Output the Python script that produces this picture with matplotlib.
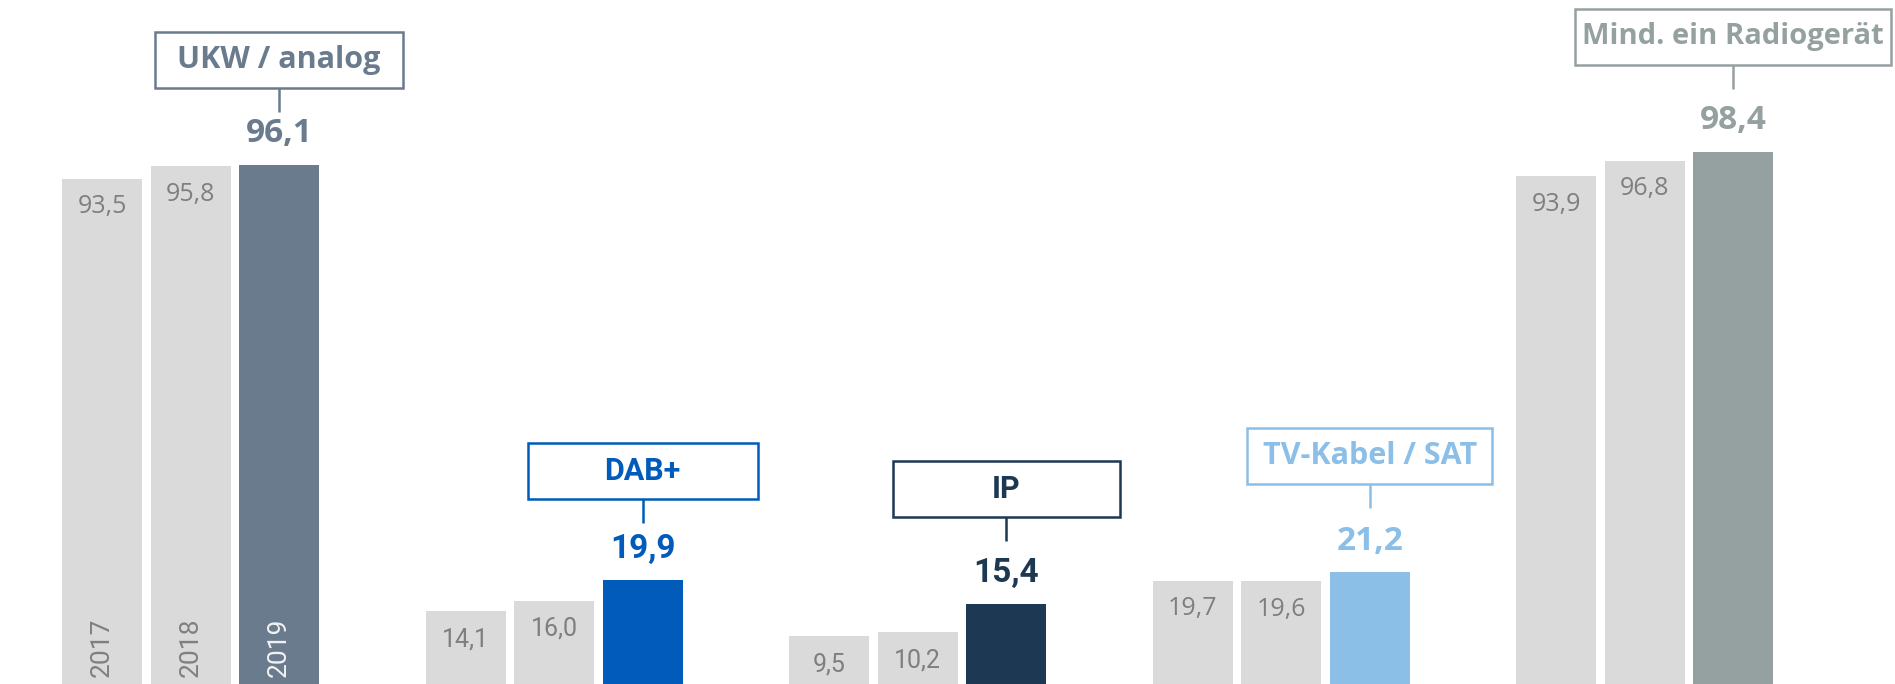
import matplotlib.pyplot as plt
from matplotlib.patches import Rectangle

# Radio reception paths, share in % (2017 / 2018 / 2019)
groups = ['UKW / analog', 'DAB+', 'IP', 'TV-Kabel / SAT', 'Mind. ein Radiogerät']
years = ['2017', '2018', '2019']
v2017 = [93.5, 14.1, 9.5, 19.7, 93.9]
v2018 = [95.8, 16.0, 10.2, 19.6, 96.8]
v2019 = [96.1, 19.9, 15.4, 21.2, 98.4]

colors = ['#6a7b8e', '#005bbb', '#1c3852', '#8bbfe8', '#95a0a1']
narrow = [False, True, True, False, False]   # condensed font for these groups
box_w = [248, 230, 227, 245, 316]             # label box widths in px
box_gap = [77, 81, 87, 88, 87]                # bar top -> box bottom, px
box_fs = [22, 22, 22, 22, 21]
grey = '#dadada'
grey_txt = '#7f7f7f'

WIDE = ['Open Sans', 'DejaVu Sans']
NARROW = ['Roboto', 'Open Sans', 'DejaVu Sans']

W, H = 1895, 684
fig = plt.figure(figsize=(W / 100, H / 100), dpi=100)
ax = fig.add_axes([0, 0, 1, 1])
x0, x1 = -0.768, 4.445
y0, y1 = 0.73, 126.3
ax.set_xlim(x0, x1)
ax.set_ylim(y0, y1)
ax.axis('off')

sx = W / (x1 - x0)  # px per x unit
sy = H / (y1 - y0)  # px per y unit

pitch = 0.2435
bw = 0.22


def fmt(v):
    return f'{v:.1f}'.replace('.', ',')


for i, g in enumerate(groups):
    fam = NARROW if narrow[i] else WIDE
    vals = [v2017[i], v2018[i], v2019[i]]
    for j, v in enumerate(vals):
        x = i + (j - 2) * pitch
        c = colors[i] if j == 2 else grey
        ax.bar(x, v, width=bw, color=c, bottom=0)
        if j < 2:
            ax.text(x, v - 28 / sy, fmt(v), ha='center', va='center',
                    fontsize=18, color=grey_txt, family=fam)
        if i == 0:
            ax.text(x, y0 + 7 / sy, years[j], rotation=90, ha='center',
                    va='bottom', fontsize=19, family=NARROW,
                    color='#f2f2f2' if j == 2 else grey_txt)

    # highlight: value, connector and framed label
    xc = i
    top = v2019[i]
    gap = box_gap[i]
    ax.text(xc, top + 31 / sy, fmt(top), ha='center', va='center',
            fontsize=24, fontweight='bold', color=colors[i], family=fam)
    ax.plot([xc, xc], [top + (gap - 24) / sy, top + gap / sy],
            color=colors[i], lw=1.8, solid_capstyle='butt')
    bh = 56
    ax.add_patch(Rectangle((xc - box_w[i] / 2 / sx, top + gap / sy),
                           box_w[i] / sx, bh / sy, fill=False,
                           ec=colors[i], lw=1.8, clip_on=False))
    ax.text(xc, top + (gap + bh / 2) / sy, g, ha='center', va='center',
            fontsize=box_fs[i], fontweight='bold', color=colors[i],
            family=fam)

fig.savefig('out.png', dpi=100)
